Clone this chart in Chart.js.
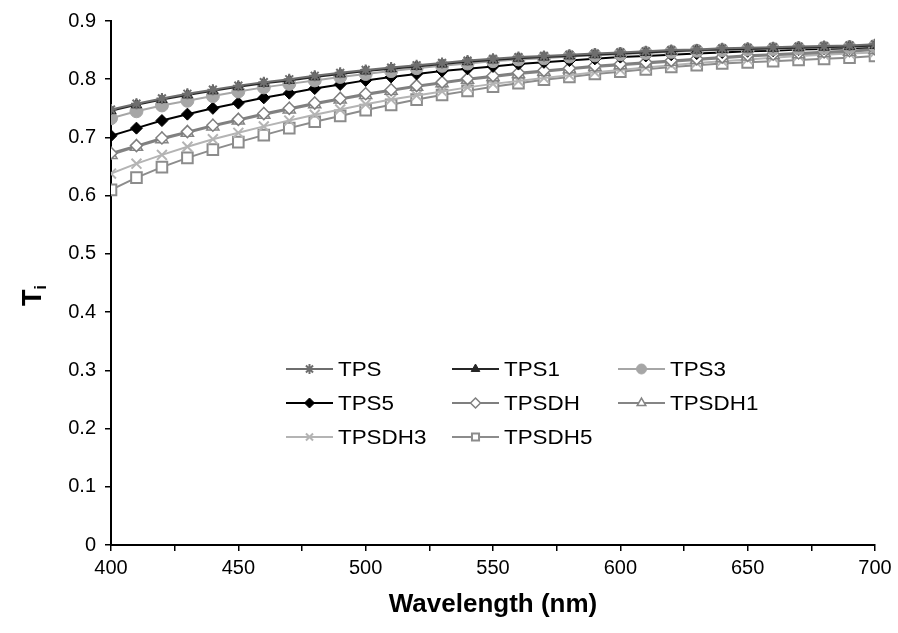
<!DOCTYPE html>
<html>
<head>
<meta charset="utf-8">
<script src="https://cdn.jsdelivr.net/npm/chart.js@4/dist/chart.umd.min.js"></script>
<style>
  html, body { margin: 0; padding: 0; background: #fff; }
  #wrap { width: 898px; height: 633px; }
</style>
</head>
<body>
<div id="wrap"><canvas id="myChart" width="898" height="633"></canvas></div>
<script>
// wavelengths (nm), one point every 10 nm
const wavelengths = [400,410,420,430,440,450,460,470,480,490,500,510,520,530,540,550,560,570,580,590,600,610,620,630,640,650,660,670,680,690,700];

// transmittance
const tps    = [0.748,0.758,0.767,0.775,0.782,0.789,0.795,0.800,0.806,0.811,0.816,0.820,0.824,0.828,0.832,0.835,0.838,0.840,0.842,0.844,0.846,0.848,0.850,0.851,0.853,0.854,0.855,0.856,0.857,0.858,0.860];
const tps1   = [0.746,0.756,0.765,0.773,0.780,0.787,0.793,0.798,0.804,0.809,0.814,0.818,0.822,0.826,0.830,0.833,0.836,0.838,0.840,0.842,0.844,0.846,0.848,0.850,0.851,0.852,0.853,0.854,0.855,0.856,0.858];
const tps3   = [0.733,0.745,0.755,0.763,0.771,0.779,0.786,0.792,0.798,0.804,0.809,0.814,0.819,0.823,0.827,0.831,0.834,0.836,0.839,0.841,0.843,0.845,0.847,0.849,0.850,0.851,0.852,0.853,0.854,0.855,0.857];
const tps5   = [0.703,0.716,0.729,0.740,0.750,0.759,0.768,0.776,0.784,0.791,0.798,0.804,0.809,0.814,0.818,0.822,0.826,0.829,0.832,0.835,0.838,0.840,0.842,0.844,0.846,0.848,0.849,0.851,0.852,0.853,0.855];
const tpsdh  = [0.673,0.686,0.699,0.710,0.721,0.731,0.741,0.750,0.759,0.767,0.775,0.782,0.789,0.795,0.801,0.806,0.811,0.815,0.819,0.823,0.826,0.829,0.832,0.835,0.838,0.841,0.843,0.845,0.847,0.849,0.852];
const tpsdh1 = [0.670,0.684,0.697,0.708,0.719,0.729,0.739,0.748,0.757,0.765,0.773,0.780,0.787,0.793,0.799,0.804,0.809,0.813,0.817,0.821,0.824,0.827,0.830,0.833,0.836,0.839,0.841,0.843,0.845,0.847,0.850];
const tpsdh3 = [0.638,0.655,0.670,0.684,0.697,0.708,0.719,0.729,0.739,0.748,0.757,0.765,0.772,0.779,0.786,0.792,0.797,0.802,0.807,0.812,0.816,0.820,0.824,0.828,0.831,0.834,0.837,0.840,0.842,0.844,0.846];
const tpsdh5 = [0.610,0.631,0.649,0.665,0.679,0.692,0.704,0.716,0.727,0.737,0.747,0.756,0.765,0.773,0.780,0.787,0.793,0.799,0.804,0.809,0.813,0.817,0.821,0.824,0.827,0.829,0.831,0.833,0.835,0.837,0.840];

const seriesNames = ['TPS','TPS1','TPS3','TPS5','TPSDH','TPSDH1','TPSDH3','TPSDH5'];
const seriesValues = [tps, tps1, tps3, tps5, tpsdh, tpsdh1, tpsdh3, tpsdh5];

// axis ticks
const yTicks = [0,0.1,0.2,0.3,0.4,0.5,0.6,0.7,0.8,0.9];
const xMin = 400, xMax = 700, xStep = 25, xLabelStep = 50;

// look of each series: colour, marker, fill
const styles = [
    { color: '#6e6e6e', point: 'star',     fill: '#6e6e6e', r: 5.5, bw: 2 },
    { color: '#262626', point: 'triangle', fill: '#262626', r: 6,   bw: 1 },
    { color: '#a6a6a6', point: 'circle',   fill: '#a6a6a6', r: 6.5, bw: 1 },
    { color: '#000000', point: 'rectRot',  fill: '#000000', r: 6,   bw: 1 },
    { color: '#7f7f7f', point: 'rectRot',  fill: '#ffffff', r: 6,   bw: 1.5 },
    { color: '#858585', point: 'triangle', fill: '#ffffff', r: 7,   bw: 1.5 },
    { color: '#b4b4b4', point: 'crossRot', fill: '#b4b4b4', r: 7,   bw: 2 },
    { color: '#8c8c8c', point: 'rect',     fill: '#ffffff', r: 7.5, bw: 2 }
];

const datasets = seriesNames.map((name, i) => ({
    label: name,
    data: wavelengths.map((w, k) => ({ x: w, y: seriesValues[i][k] })),
    borderColor: styles[i].color,
    backgroundColor: styles[i].fill,
    borderWidth: 2,
    pointStyle: styles[i].point,
    pointRadius: styles[i].r,
    pointBorderWidth: styles[i].bw,
    pointBorderColor: styles[i].color,
    pointBackgroundColor: styles[i].fill,
    tension: 0
}));

// legend in three columns inside the plot, drawn by hand
const legendPlugin = {
    id: 'gridLegend',
    afterDraw(chart) {
        const ctx = chart.ctx;
        const area = chart.chartArea;
        const x0 = area.left + 175, y0 = area.top + 348;
        const colW = 166, rowH = 34, lineLen = 47;
        ctx.save();
        ctx.font = '20px "Liberation Sans", Arial, sans-serif';
        ctx.textBaseline = 'middle';
        chart.data.datasets.forEach((ds, i) => {
            const x = x0 + (i % 3) * colW;
            const y = y0 + Math.floor(i / 3) * rowH;
            ctx.strokeStyle = ds.borderColor;
            ctx.lineWidth = 2;
            ctx.beginPath();
            ctx.moveTo(x, y);
            ctx.lineTo(x + lineLen, y);
            ctx.stroke();
            ctx.strokeStyle = ds.pointBorderColor;
            ctx.fillStyle = ds.pointBackgroundColor;
            ctx.lineWidth = ds.pointBorderWidth;
            Chart.helpers.drawPoint(ctx, {
                pointStyle: ds.pointStyle,
                radius: Math.min(ds.pointRadius, 5),
                rotation: 0,
                borderWidth: ds.pointBorderWidth
            }, x + lineLen / 2, y);
            // the reference text is a little wider than Arial
            ctx.save();
            ctx.fillStyle = '#000';
            ctx.translate(x + lineLen + 5, y + 1);
            ctx.scale(1.12, 1);
            ctx.fillText(ds.label, 0, 0);
            ctx.restore();
        });
        ctx.restore();
    }
};

// axis titles, the y one has a subscript
const titlePlugin = {
    id: 'axisTitles',
    afterDraw(chart) {
        const ctx = chart.ctx;
        const area = chart.chartArea;
        ctx.save();
        ctx.fillStyle = '#000';
        ctx.textBaseline = 'alphabetic';
        ctx.textAlign = 'center';
        ctx.font = 'bold 26px "Liberation Sans", Arial, sans-serif';
        ctx.fillText('Wavelength (nm)', (area.left + area.right) / 2, 612);

        ctx.translate(41, 296);
        ctx.rotate(-Math.PI / 2);
        ctx.textAlign = 'left';
        ctx.font = 'bold 27px "Liberation Sans", Arial, sans-serif';
        ctx.fillText('T', -10, 0);
        const tw = ctx.measureText('T').width;
        ctx.font = 'bold 16px "Liberation Sans", Arial, sans-serif';
        ctx.fillText('i', -10 + tw, 5);
        ctx.restore();
    }
};

const chartContext = document.getElementById('myChart').getContext('2d');

const chart = new Chart(chartContext, {
    type: 'line',
    data: { datasets },
    plugins: [legendPlugin, titlePlugin],
    options: {
        responsive: false,
        animation: false,
        layout: { padding: { top: 16, right: 23, left: 0, bottom: 0 } },
        plugins: {
            legend: { display: false },
            tooltip: { enabled: false }
        },
        scales: {
            x: {
                type: 'linear',
                min: xMin,
                max: xMax,
                afterFit: (scale) => { scale.height = 88; },
                afterBuildTicks: (scale) => {
                    const t = [];
                    for (let v = xMin; v <= xMax; v += xStep) t.push({ value: v });
                    scale.ticks = t;
                },
                ticks: {
                    autoSkip: false,
                    maxRotation: 0,
                    padding: 5,
                    color: '#000',
                    font: { family: '"Liberation Sans", Arial, sans-serif', size: 20 },
                    callback: (v) => (v % xLabelStep === 0 ? String(v) : '')
                },
                grid: { drawOnChartArea: false, drawTicks: true, tickLength: 6, color: '#000', lineWidth: 1.5 },
                border: { color: '#000', width: 2 }
            },
            y: {
                min: 0,
                max: 0.9,
                afterFit: (scale) => { scale.width = 111; },
                afterBuildTicks: (scale) => {
                    scale.ticks = yTicks.map(v => ({ value: v }));
                },
                ticks: {
                    padding: 9,
                    color: '#000',
                    font: { family: '"Liberation Sans", Arial, sans-serif', size: 20 },
                    callback: (v) => String(Math.round(v * 10) / 10)
                },
                grid: { drawOnChartArea: false, drawTicks: true, tickLength: 6, color: '#000', lineWidth: 1.5 },
                border: { color: '#000', width: 2 }
            }
        }
    }
});
</script>
</body>
</html>
